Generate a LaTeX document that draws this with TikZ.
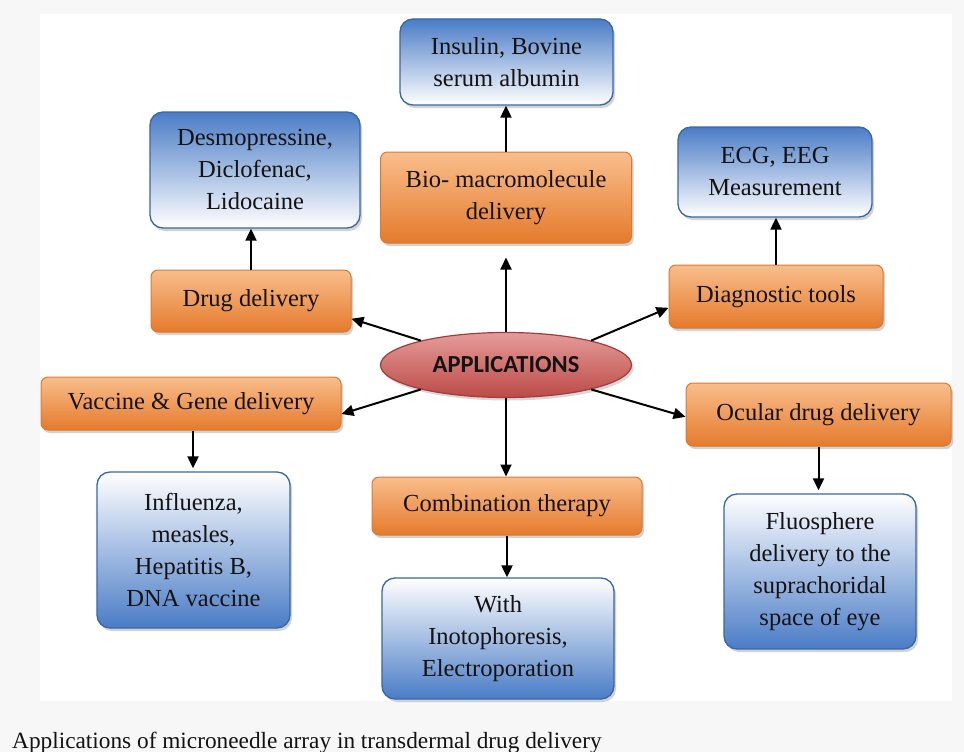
\documentclass[tikz,border=0pt]{standalone}
\usepackage{fontspec}
\setmainfont{Liberation Serif}
\newfontfamily\appfont{Carlito}
\usetikzlibrary{shapes.geometric,shadows,arrows.meta,calc}
\definecolor{pagegray}{HTML}{F7F7F7}
\definecolor{orTop}{HTML}{F9BE8C}
\definecolor{orBot}{HTML}{E57A2C}
\definecolor{orDraw}{HTML}{D97A34}
\definecolor{blDark}{HTML}{4A7CC6}
\definecolor{blDraw}{HTML}{3A66A8}
\definecolor{redTop}{HTML}{E59C9A}
\definecolor{redBot}{HTML}{BC4A47}
\definecolor{redDraw}{HTML}{A03E3C}
\definecolor{txt}{HTML}{141212}
\tikzset{
  x=1pt, y=-1pt,
  box/.style={rectangle, inner sep=0pt, align=center, text=txt,
    font=\fontsize{24.5}{32}\selectfont,
    drop shadow={shadow xshift=2pt, shadow yshift=-3pt, opacity=0.35}},
  orbox/.style={box, rounded corners=7pt, draw=orDraw, line width=1pt,
    top color=orTop, bottom color=orBot},
  bluetop/.style={box, rounded corners=13pt, draw=blDraw, line width=1.3pt,
    top color=blDark, bottom color=white},
  bluebot/.style={box, rounded corners=13pt, draw=blDraw, line width=1.3pt,
    top color=white, bottom color=blDark},
  conn/.style={draw=black, line width=2pt, -{Triangle[length=12pt,width=11pt]}},
}
\begin{document}
\begin{tikzpicture}
\useasboundingbox (0,0) rectangle (964,752);
\fill[pagegray] (0,0) rectangle (964,752);
\fill[white] (40,14) rectangle (952,701);

% central ellipse
\node[ellipse, minimum width=251pt, minimum height=65pt, inner sep=0pt,
  top color=redTop, bottom color=redBot, draw=redDraw, line width=1.2pt,
  drop shadow={shadow xshift=2pt, shadow yshift=-3pt, opacity=0.3},
  font=\appfont\bfseries\fontsize{24.5}{28}\selectfont, text=txt]
  (app) at (506,365) {APPLICATIONS};

% orange nodes
\node[orbox, minimum width=251pt, minimum height=91pt] (bio) at (506,197.5) {Bio- macromolecule\\delivery};
\node[orbox, minimum width=200pt, minimum height=62pt] (drug) at (251,301) {Drug delivery};
\node[orbox, minimum width=214pt, minimum height=63pt] (diag) at (776,296.5) {Diagnostic tools};
\node[orbox, minimum width=300pt, minimum height=53pt] (vac) at (191,403.5) {Vaccine \& Gene delivery};
\node[orbox, minimum width=265pt, minimum height=63pt] (ocu) at (818.5,414.5) {Ocular drug delivery};
\node[orbox, minimum width=270pt, minimum height=58pt] (comb) at (507,506) {Combination therapy};

% blue nodes
\node[bluetop, minimum width=213pt, minimum height=86pt] (ins) at (506.5,62) {Insulin, Bovine\\serum albumin};
\node[bluetop, minimum width=210pt, minimum height=116pt] (des) at (255,170) {Desmopressine,\\Diclofenac,\\Lidocaine};
\node[bluetop, minimum width=194pt, minimum height=90pt] (ecg) at (775,172) {ECG, EEG\\Measurement};
\node[bluebot, minimum width=193pt, minimum height=156pt] (inf) at (193.5,550) {Influenza,\\measles,\\Hepatitis B,\\DNA vaccine};
\node[bluebot, minimum width=232pt, minimum height=121pt] (with) at (498,638.5) {With\\Inotophoresis,\\Electroporation};
\node[bluebot, minimum width=192pt, minimum height=155pt] (flu) at (820,571.5) {Fluosphere\\delivery to the\\suprachoridal\\space of eye};

% connectors from the centre
\draw[conn, shorten >=14pt] (app.north) -- (bio.south);
\draw[conn] (app.164) -- (drug.-10.6);
\draw[conn] (app.16) -- (diag.186.4);
\draw[conn] (app.196) -- (vac.-4.8);
\draw[conn] (app.-16) -- (ocu.181);
\draw[conn] (app.south) -- (app.south |- comb.north);

% connectors to the examples
\coordinate (vs) at ($(vac.south)+(2,0)$);
\draw[conn] (bio.north) -- (bio.north |- ins.south);
\draw[conn] (drug.north) -- (drug.north |- des.south);
\draw[conn] (diag.north) -- (diag.north |- ecg.south);
\draw[conn, shorten >=3pt] (vs) -- (vs |- inf.north);
\draw[conn, shorten >=3pt] (ocu.south) -- (ocu.south |- flu.north);
\draw[conn] (comb.south) -- (comb.south |- with.north);

% caption
\node[anchor=base west, inner sep=0pt, text=txt, font=\fontsize{23.3}{27}\selectfont]
  (cap) at (12,748) {Applications of microneedle array in transdermal drug delivery};
\end{tikzpicture}
\end{document}
